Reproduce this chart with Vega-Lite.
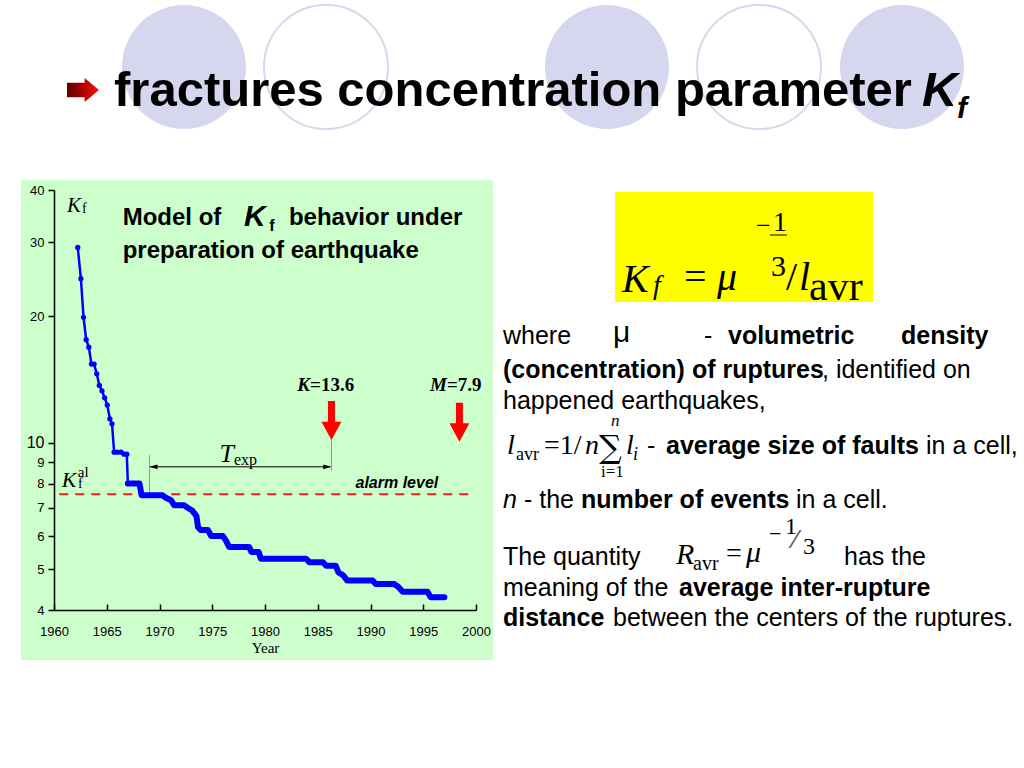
{
"$schema": "https://vega.github.io/schema/vega-lite/v6.json",
"background": "white",
"padding": {"left": 20, "top": 1, "right": 4, "bottom": 4},
"bounds": "flush",
"spacing": 55,
"config": {"view": {"stroke": null}, "font": "Liberation Sans"},
"data": {"values": [{}]},
"datasets": {"kf": [
{"year":1962.25,"kf":29.2},{"year":1962.55,"kf":24.6},{"year":1962.8,"kf":19.9},{"year":1963.05,"kf":17.6},{"year":1963.3,"kf":16.9},{"year":1963.55,"kf":15.4},{"year":1963.8,"kf":15.4},{"year":1964.05,"kf":14.6},{"year":1964.3,"kf":13.7},{"year":1964.55,"kf":13.3},{"year":1964.8,"kf":12.8},{"year":1965.05,"kf":12.3},{"year":1965.3,"kf":11.4},{"year":1965.5,"kf":11.1},{"year":1965.7,"kf":9.5},{"year":1966.0,"kf":9.5},{"year":1966.35,"kf":9.5},{"year":1966.65,"kf":9.4},{"year":1966.9,"kf":9.4},{"year":1967.0,"kf":8.0},{"year":1968.1,"kf":8.0},{"year":1968.3,"kf":7.5},{"year":1970.3,"kf":7.5},{"year":1970.6,"kf":7.4},{"year":1971.1,"kf":7.3},{"year":1971.4,"kf":7.1},{"year":1972.35,"kf":7.1},{"year":1972.7,"kf":7.0},{"year":1973.1,"kf":6.9},{"year":1973.5,"kf":6.7},{"year":1973.65,"kf":6.3},{"year":1973.9,"kf":6.2},{"year":1974.6,"kf":6.2},{"year":1974.9,"kf":6.0},{"year":1976.0,"kf":6.0},{"year":1976.3,"kf":5.85},{"year":1976.6,"kf":5.65},{"year":1978.5,"kf":5.65},{"year":1978.7,"kf":5.5},{"year":1979.4,"kf":5.5},{"year":1979.6,"kf":5.3},{"year":1983.9,"kf":5.3},{"year":1984.2,"kf":5.2},{"year":1985.5,"kf":5.2},{"year":1985.8,"kf":5.1},{"year":1986.7,"kf":5.1},{"year":1986.95,"kf":4.92},{"year":1987.4,"kf":4.84},{"year":1987.8,"kf":4.7},{"year":1990.2,"kf":4.7},{"year":1990.5,"kf":4.61},{"year":1992.25,"kf":4.61},{"year":1992.6,"kf":4.55},{"year":1993.05,"kf":4.42},{"year":1995.4,"kf":4.42},{"year":1995.7,"kf":4.29},{"year":1997.0,"kf":4.29}
]},
"vconcat": [
{
"width": 950, "height": 130,
"layer": [
{"mark": {"type":"point","shape":"circle","filled":true,"fill":"#d6d6ee","strokeWidth":0,"size":15376,"opacity":1},
 "encoding": {"x":{"datum":130,"type":"quantitative","scale":{"domain":[0,950]},"axis":null},"y":{"datum":62,"type":"quantitative","scale":{"domain":[0,130],"reverse":true},"axis":null}}},
{"mark": {"type":"point","shape":"circle","filled":false,"stroke":"#d6d6ee","strokeWidth":2,"size":15376,"opacity":1},
 "encoding": {"x":{"datum":272,"type":"quantitative","scale":{"domain":[0,950]},"axis":null},"y":{"datum":62,"type":"quantitative","scale":{"domain":[0,130],"reverse":true},"axis":null}}},
{"mark": {"type":"point","shape":"circle","filled":true,"fill":"#d6d6ee","strokeWidth":0,"size":15376,"opacity":1},
 "encoding": {"x":{"datum":553,"type":"quantitative","scale":{"domain":[0,950]},"axis":null},"y":{"datum":62,"type":"quantitative","scale":{"domain":[0,130],"reverse":true},"axis":null}}},
{"mark": {"type":"point","shape":"circle","filled":false,"stroke":"#d6d6ee","strokeWidth":2,"size":15376,"opacity":1},
 "encoding": {"x":{"datum":705,"type":"quantitative","scale":{"domain":[0,950]},"axis":null},"y":{"datum":62,"type":"quantitative","scale":{"domain":[0,130],"reverse":true},"axis":null}}},
{"mark": {"type":"point","shape":"circle","filled":true,"fill":"#d6d6ee","strokeWidth":0,"size":15376,"opacity":1},
 "encoding": {"x":{"datum":848,"type":"quantitative","scale":{"domain":[0,950]},"axis":null},"y":{"datum":62,"type":"quantitative","scale":{"domain":[0,130],"reverse":true},"axis":null}}},
{"mark": {"type":"point","shape":"M-1,-0.45L0.1,-0.45L0.1,-0.75L1,0L0.1,0.75L0.1,0.45L-1,0.45Z","filled":true,"fill":{"gradient":"linear","x1":0,"y1":0,"x2":1,"y2":0,"stops":[{"offset":0,"color":"#5a0000"},{"offset":0.5,"color":"#b00000"},{"offset":1,"color":"#ff1010"}]},"strokeWidth":0,"size":1024,"opacity":1},
 "encoding": {"x":{"datum":29,"type":"quantitative","scale":{"domain":[0,950]},"axis":null},"y":{"datum":85,"type":"quantitative","scale":{"domain":[0,130],"reverse":true},"axis":null}}},
{"mark": {"type":"text","text":"fractures concentration parameter","font":"Liberation Sans","fontSize":49,"fontWeight":"bold","align":"left","baseline":"alphabetic","color":"black"},
 "encoding": {"x":{"datum":60,"type":"quantitative","scale":{"domain":[0,950]},"axis":null},"y":{"datum":101,"type":"quantitative","scale":{"domain":[0,130],"reverse":true},"axis":null}}},
{"mark": {"type":"text","text":"K","font":"Liberation Sans","fontSize":49,"fontWeight":"bold","fontStyle":"italic","align":"left","baseline":"alphabetic","color":"black"},
 "encoding": {"x":{"datum":868,"type":"quantitative","scale":{"domain":[0,950]},"axis":null},"y":{"datum":101,"type":"quantitative","scale":{"domain":[0,130],"reverse":true},"axis":null}}},
{"mark": {"type":"text","text":"f","font":"Liberation Sans","fontSize":30,"fontWeight":"bold","fontStyle":"italic","align":"left","baseline":"alphabetic","color":"black"},
 "encoding": {"x":{"datum":903,"type":"quantitative","scale":{"domain":[0,950]},"axis":null},"y":{"datum":113,"type":"quantitative","scale":{"domain":[0,130],"reverse":true},"axis":null}}}
]
},
{
"hconcat": [
{
"width": 422, "height": 420,
"layer": [
{"mark": {"type":"rect","color":"#ccffcc","clip":false},
 "encoding": {
  "x": {"datum":1956.87,"type":"quantitative","scale":{"domain":[1960,2000],"nice":false,"zero":false},
   "axis":{"values":[1960,1965,1970,1975,1980,1985,1990,1995,2000],
    "format":"d","title":"Year","titleFont":"Liberation Serif","titleFontSize":15,"titleFontWeight":"normal","titleColor":"black","titlePadding":2,
    "grid":false,"zindex":1,"domainColor":"black","domainWidth":1.5,"tickColor":"black","tickWidth":1.5,"tickSize":-6,
    "labelPadding":21,"labelColor":"black","labelFont":"Liberation Sans","labelFontSize":13,"labelOverlap":false,"labelFlush":false}},
  "x2":{"datum":2001.6},
  "y": {"datum":42.3,"type":"quantitative","scale":{"type":"log","domain":[4,40],"nice":false},
   "axis":{"values":[4,5,6,7,8,9,10,20,30,40],"format":"d","title":null,"grid":false,"zindex":1,"domainColor":"black","domainWidth":1.5,"tickColor":"black","tickWidth":1.5,"tickSize":6,"labelPadding":4,"labelColor":"black","labelFont":"Liberation Sans","labelOverlap":false,
    "labelFontSize":{"condition":{"test":"datum.value === 10","value":16},"value":13}}},
  "y2":{"datum":3.04}}},
{"mark": {"type":"rule","color":"#e8201a","strokeWidth":2,"strokeDash":[9,7]},
 "encoding": {"x":{"datum":1960.5},"x2":{"datum":1999.8},"y":{"datum":7.55}}},
{"mark": {"type":"rule","color":"#7f9f7f","strokeWidth":1},
 "encoding": {"x":{"datum":1969.05},"y":{"datum":9.35},"y2":{"datum":7.55}}},
{"mark": {"type":"rule","color":"#7f9f7f","strokeWidth":1},
 "encoding": {"x":{"datum":1986.3},"y":{"datum":10.2},"y2":{"datum":8.6}}},
{"mark": {"type":"rule","color":"black","strokeWidth":1},
 "encoding": {"x":{"datum":1969.1},"x2":{"datum":1986.2},"y":{"datum":8.77}}},
{"mark": {"type":"point","shape":"M1,-0.6L-1,0L1,0.6Z","filled":true,"color":"black","size":64,"opacity":1},
 "encoding": {"x":{"datum":1969.43},"y":{"datum":8.77}}},
{"mark": {"type":"point","shape":"M-1,-0.6L1,0L-1,0.6Z","filled":true,"color":"black","size":64,"opacity":1},
 "encoding": {"x":{"datum":1985.9},"y":{"datum":8.77}}},
{"mark": {"type":"point","shape":"M-0.18,-1L0.18,-1L0.18,0.06L0.51,0.06L0,1L-0.51,0.06L-0.18,0.06Z","filled":true,"color":"#ff0000","size":1521,"opacity":1},
 "encoding": {"x":{"datum":1986.3},"y":{"datum":11.3}}},
{"mark": {"type":"point","shape":"M-0.18,-1L0.18,-1L0.18,0.06L0.51,0.06L0,1L-0.51,0.06L-0.18,0.06Z","filled":true,"color":"#ff0000","size":1521,"opacity":1},
 "encoding": {"x":{"datum":1998.43},"y":{"datum":11.2}}},
{"data": {"name":"kf"},
 "mark": {"type":"line","color":"#0000ff","strokeWidth":2.5},
 "encoding": {"x":{"field":"year","type":"quantitative"},"y":{"field":"kf","type":"quantitative"}}},
{"data": {"name":"kf"},
 "transform": [{"filter":"datum.year >= 1967"}],
 "mark": {"type":"line","color":"#0000ff","strokeWidth":6,"strokeJoin":"round","strokeCap":"round"},
 "encoding": {"x":{"field":"year","type":"quantitative"},"y":{"field":"kf","type":"quantitative"}}},
{"data": {"name":"kf"},
 "transform": [{"filter":"datum.year < 1967.05"}],
 "mark": {"type":"point","filled":true,"color":"#0000ff","size":28,"opacity":1},
 "encoding": {"x":{"field":"year","type":"quantitative"},"y":{"field":"kf","type":"quantitative"}}},
{"mark": {"type":"text","text":"K","font":"Liberation Serif","fontSize":21,"fontStyle":"italic","align":"left","baseline":"alphabetic","color":"black"},
 "encoding": {"x":{"datum":1961.23},"y":{"datum":35.4}}},
{"mark": {"type":"text","text":"f","font":"Liberation Serif","fontSize":14,"align":"left","baseline":"alphabetic","color":"black"},
 "encoding": {"x":{"datum":1962.65},"y":{"datum":35.2}}},
{"mark": {"type":"text","text":"K","font":"Liberation Serif","fontSize":22,"fontStyle":"italic","align":"left","baseline":"alphabetic","color":"black"},
 "encoding": {"x":{"datum":1960.73},"y":{"datum":7.86}}},
{"mark": {"type":"text","text":"al","font":"Liberation Serif","fontSize":15,"align":"left","baseline":"alphabetic","color":"black"},
 "encoding": {"x":{"datum":1962.25},"y":{"datum":8.31}}},
{"mark": {"type":"text","text":"f","font":"Liberation Serif","fontSize":14,"align":"left","baseline":"alphabetic","color":"black"},
 "encoding": {"x":{"datum":1962.27},"y":{"datum":7.8}}},
{"mark": {"type":"text","text":"Model of","font":"Liberation Sans","fontSize":24,"fontWeight":"bold","align":"left","baseline":"alphabetic","color":"black"},
 "encoding": {"x":{"datum":1966.51},"y":{"datum":33.0}}},
{"mark": {"type":"text","text":"K","font":"Liberation Sans","fontSize":30,"fontWeight":"bold","fontStyle":"italic","align":"left","baseline":"alphabetic","color":"black"},
 "encoding": {"x":{"datum":1978.0},"y":{"datum":32.8}}},
{"mark": {"type":"text","text":"f","font":"Liberation Sans","fontSize":16,"fontWeight":"bold","align":"left","baseline":"alphabetic","color":"black"},
 "encoding": {"x":{"datum":1980.4},"y":{"datum":31.9}}},
{"mark": {"type":"text","text":"behavior under","font":"Liberation Sans","fontSize":24,"fontWeight":"bold","align":"left","baseline":"alphabetic","color":"black"},
 "encoding": {"x":{"datum":1982.27},"y":{"datum":33.0}}},
{"mark": {"type":"text","text":"preparation of earthquake","font":"Liberation Sans","fontSize":24,"fontWeight":"bold","align":"left","baseline":"alphabetic","color":"black"},
 "encoding": {"x":{"datum":1966.51},"y":{"datum":27.5}}},
{"mark": {"type":"text","text":"K","font":"Liberation Serif","fontSize":19,"fontWeight":"bold","fontStyle":"italic","align":"right","baseline":"alphabetic","color":"black"},
 "encoding": {"x":{"datum":1984.27},"y":{"datum":13.3}}},
{"mark": {"type":"text","text":"=13.6","font":"Liberation Serif","fontSize":19,"fontWeight":"bold","align":"left","baseline":"alphabetic","color":"black"},
 "encoding": {"x":{"datum":1984.27},"y":{"datum":13.3}}},
{"mark": {"type":"text","text":"M","font":"Liberation Serif","fontSize":19,"fontWeight":"bold","fontStyle":"italic","align":"right","baseline":"alphabetic","color":"black"},
 "encoding": {"x":{"datum":1997.25},"y":{"datum":13.3}}},
{"mark": {"type":"text","text":"=7.9","font":"Liberation Serif","fontSize":19,"fontWeight":"bold","align":"left","baseline":"alphabetic","color":"black"},
 "encoding": {"x":{"datum":1997.25},"y":{"datum":13.3}}},
{"mark": {"type":"text","text":"T","font":"Liberation Serif","fontSize":26,"fontStyle":"italic","align":"right","baseline":"alphabetic","color":"black"},
 "encoding": {"x":{"datum":1977.06},"y":{"datum":9.0}}},
{"mark": {"type":"text","text":"exp","font":"Liberation Serif","fontSize":16,"align":"left","baseline":"alphabetic","color":"black"},
 "encoding": {"x":{"datum":1977.06},"y":{"datum":8.85}}},
{"mark": {"type":"text","text":"alarm level","font":"Liberation Sans","fontSize":16,"fontWeight":"bold","fontStyle":"italic","align":"center","baseline":"alphabetic","color":"black"},
 "encoding": {"x":{"datum":1992.5},"y":{"datum":7.81}}}
]
},
{
"width": 520, "height": 450,
"layer": [
{"mark": {"type":"rect","color":"#ffff00"},
 "encoding": {"x":{"datum":114,"type":"quantitative","scale":{"domain":[0,520]},"axis":null},"x2":{"datum":372},"y":{"datum":2,"type":"quantitative","scale":{"domain":[0,450],"reverse":true},"axis":null},"y2":{"datum":112}}},
{"mark": {"type":"text","text":"K","font":"Liberation Serif","fontSize":40,"fontStyle":"italic","align":"left","baseline":"alphabetic","color":"black"},
 "encoding": {"x":{"datum":121,"type":"quantitative","scale":{"domain":[0,520]},"axis":null},"y":{"datum":102,"type":"quantitative","scale":{"domain":[0,450],"reverse":true},"axis":null}}},
{"mark": {"type":"text","text":"f","font":"Liberation Serif","fontSize":28,"fontStyle":"italic","align":"left","baseline":"alphabetic","color":"black"},
 "encoding": {"x":{"datum":152,"type":"quantitative","scale":{"domain":[0,520]},"axis":null},"y":{"datum":104,"type":"quantitative","scale":{"domain":[0,450],"reverse":true},"axis":null}}},
{"mark": {"type":"text","text":"=","font":"Liberation Serif","fontSize":40,"align":"left","baseline":"alphabetic","color":"black"},
 "encoding": {"x":{"datum":183,"type":"quantitative","scale":{"domain":[0,520]},"axis":null},"y":{"datum":100,"type":"quantitative","scale":{"domain":[0,450],"reverse":true},"axis":null}}},
{"mark": {"type":"text","text":"μ","font":"Liberation Serif","fontSize":40,"fontStyle":"italic","align":"left","baseline":"alphabetic","color":"black"},
 "encoding": {"x":{"datum":216,"type":"quantitative","scale":{"domain":[0,520]},"axis":null},"y":{"datum":100,"type":"quantitative","scale":{"domain":[0,450],"reverse":true},"axis":null}}},
{"mark": {"type":"text","text":"−","font":"Liberation Serif","fontSize":26,"align":"left","baseline":"alphabetic","color":"black"},
 "encoding": {"x":{"datum":255,"type":"quantitative","scale":{"domain":[0,520]},"axis":null},"y":{"datum":44,"type":"quantitative","scale":{"domain":[0,450],"reverse":true},"axis":null}}},
{"mark": {"type":"text","text":"1","font":"Liberation Serif","fontSize":28,"align":"left","baseline":"alphabetic","color":"black"},
 "encoding": {"x":{"datum":272,"type":"quantitative","scale":{"domain":[0,520]},"axis":null},"y":{"datum":41,"type":"quantitative","scale":{"domain":[0,450],"reverse":true},"axis":null}}},
{"mark": {"type":"rule","color":"black","strokeWidth":1},
 "encoding": {"x":{"datum":269,"type":"quantitative","scale":{"domain":[0,520]},"axis":null},"x2":{"datum":286},"y":{"datum":45,"type":"quantitative","scale":{"domain":[0,450],"reverse":true},"axis":null}}},
{"mark": {"type":"text","text":"3","font":"Liberation Serif","fontSize":30,"align":"left","baseline":"alphabetic","color":"black"},
 "encoding": {"x":{"datum":270,"type":"quantitative","scale":{"domain":[0,520]},"axis":null},"y":{"datum":86,"type":"quantitative","scale":{"domain":[0,450],"reverse":true},"axis":null}}},
{"mark": {"type":"text","text":"/","font":"Liberation Serif","fontSize":40,"align":"left","baseline":"alphabetic","color":"black"},
 "encoding": {"x":{"datum":285,"type":"quantitative","scale":{"domain":[0,520]},"axis":null},"y":{"datum":100,"type":"quantitative","scale":{"domain":[0,450],"reverse":true},"axis":null}}},
{"mark": {"type":"text","text":"l","font":"Liberation Serif","fontSize":40,"fontStyle":"italic","align":"left","baseline":"alphabetic","color":"black"},
 "encoding": {"x":{"datum":298,"type":"quantitative","scale":{"domain":[0,520]},"axis":null},"y":{"datum":100,"type":"quantitative","scale":{"domain":[0,450],"reverse":true},"axis":null}}},
{"mark": {"type":"text","text":"avr","font":"Liberation Serif","fontSize":42,"align":"left","baseline":"alphabetic","color":"black"},
 "encoding": {"x":{"datum":308,"type":"quantitative","scale":{"domain":[0,520]},"axis":null},"y":{"datum":110,"type":"quantitative","scale":{"domain":[0,450],"reverse":true},"axis":null}}},

{"mark": {"type":"text","text":"where","font":"Liberation Sans","fontSize":25,"align":"left","baseline":"alphabetic","color":"black"},
 "encoding": {"x":{"datum":2,"type":"quantitative","scale":{"domain":[0,520]},"axis":null},"y":{"datum":154,"type":"quantitative","scale":{"domain":[0,450],"reverse":true},"axis":null}}},
{"mark": {"type":"text","text":"μ","font":"Liberation Sans","fontSize":30,"align":"left","baseline":"alphabetic","color":"black"},
 "encoding": {"x":{"datum":112,"type":"quantitative","scale":{"domain":[0,520]},"axis":null},"y":{"datum":152,"type":"quantitative","scale":{"domain":[0,450],"reverse":true},"axis":null}}},
{"mark": {"type":"text","text":"-","font":"Liberation Sans","fontSize":25,"align":"left","baseline":"alphabetic","color":"black"},
 "encoding": {"x":{"datum":203,"type":"quantitative","scale":{"domain":[0,520]},"axis":null},"y":{"datum":154,"type":"quantitative","scale":{"domain":[0,450],"reverse":true},"axis":null}}},
{"mark": {"type":"text","text":"volumetric","font":"Liberation Sans","fontSize":25,"fontWeight":"bold","align":"left","baseline":"alphabetic","color":"black"},
 "encoding": {"x":{"datum":227,"type":"quantitative","scale":{"domain":[0,520]},"axis":null},"y":{"datum":154,"type":"quantitative","scale":{"domain":[0,450],"reverse":true},"axis":null}}},
{"mark": {"type":"text","text":"density","font":"Liberation Sans","fontSize":25,"fontWeight":"bold","align":"left","baseline":"alphabetic","color":"black"},
 "encoding": {"x":{"datum":400,"type":"quantitative","scale":{"domain":[0,520]},"axis":null},"y":{"datum":154,"type":"quantitative","scale":{"domain":[0,450],"reverse":true},"axis":null}}},
{"mark": {"type":"text","text":"(concentration) of ruptures","font":"Liberation Sans","fontSize":25,"fontWeight":"bold","align":"left","baseline":"alphabetic","color":"black"},
 "encoding": {"x":{"datum":2,"type":"quantitative","scale":{"domain":[0,520]},"axis":null},"y":{"datum":188,"type":"quantitative","scale":{"domain":[0,450],"reverse":true},"axis":null}}},
{"mark": {"type":"text","text":", identified on","font":"Liberation Sans","fontSize":25,"align":"left","baseline":"alphabetic","color":"black"},
 "encoding": {"x":{"datum":321,"type":"quantitative","scale":{"domain":[0,520]},"axis":null},"y":{"datum":188,"type":"quantitative","scale":{"domain":[0,450],"reverse":true},"axis":null}}},
{"mark": {"type":"text","text":"happened earthquakes,","font":"Liberation Sans","fontSize":25,"align":"left","baseline":"alphabetic","color":"black"},
 "encoding": {"x":{"datum":2,"type":"quantitative","scale":{"domain":[0,520]},"axis":null},"y":{"datum":219,"type":"quantitative","scale":{"domain":[0,450],"reverse":true},"axis":null}}},

{"mark": {"type":"text","text":"l","font":"Liberation Serif","fontSize":28,"fontStyle":"italic","align":"left","baseline":"alphabetic","color":"black"},
 "encoding": {"x":{"datum":6,"type":"quantitative","scale":{"domain":[0,520]},"axis":null},"y":{"datum":264,"type":"quantitative","scale":{"domain":[0,450],"reverse":true},"axis":null}}},
{"mark": {"type":"text","text":"avr","font":"Liberation Serif","fontSize":18,"align":"left","baseline":"alphabetic","color":"black"},
 "encoding": {"x":{"datum":15,"type":"quantitative","scale":{"domain":[0,520]},"axis":null},"y":{"datum":270,"type":"quantitative","scale":{"domain":[0,450],"reverse":true},"axis":null}}},
{"mark": {"type":"text","text":"=1/","font":"Liberation Serif","fontSize":28,"align":"left","baseline":"alphabetic","color":"black"},
 "encoding": {"x":{"datum":43,"type":"quantitative","scale":{"domain":[0,520]},"axis":null},"y":{"datum":264,"type":"quantitative","scale":{"domain":[0,450],"reverse":true},"axis":null}}},
{"mark": {"type":"text","text":"n","font":"Liberation Serif","fontSize":28,"fontStyle":"italic","align":"left","baseline":"alphabetic","color":"black"},
 "encoding": {"x":{"datum":84,"type":"quantitative","scale":{"domain":[0,520]},"axis":null},"y":{"datum":264,"type":"quantitative","scale":{"domain":[0,450],"reverse":true},"axis":null}}},
{"mark": {"type":"text","text":"∑","font":"DejaVu Serif","fontSize":32,"align":"left","baseline":"alphabetic","color":"black"},
 "encoding": {"x":{"datum":98,"type":"quantitative","scale":{"domain":[0,520]},"axis":null},"y":{"datum":268,"type":"quantitative","scale":{"domain":[0,450],"reverse":true},"axis":null}}},
{"mark": {"type":"text","text":"n","font":"Liberation Serif","fontSize":17,"fontStyle":"italic","align":"left","baseline":"alphabetic","color":"black"},
 "encoding": {"x":{"datum":110,"type":"quantitative","scale":{"domain":[0,520]},"axis":null},"y":{"datum":236,"type":"quantitative","scale":{"domain":[0,450],"reverse":true},"axis":null}}},
{"mark": {"type":"text","text":"i=1","font":"Liberation Serif","fontSize":17,"align":"left","baseline":"alphabetic","color":"black"},
 "encoding": {"x":{"datum":100,"type":"quantitative","scale":{"domain":[0,520]},"axis":null},"y":{"datum":287,"type":"quantitative","scale":{"domain":[0,450],"reverse":true},"axis":null}}},
{"mark": {"type":"text","text":"l","font":"Liberation Serif","fontSize":28,"fontStyle":"italic","align":"left","baseline":"alphabetic","color":"black"},
 "encoding": {"x":{"datum":125,"type":"quantitative","scale":{"domain":[0,520]},"axis":null},"y":{"datum":264,"type":"quantitative","scale":{"domain":[0,450],"reverse":true},"axis":null}}},
{"mark": {"type":"text","text":"i","font":"Liberation Serif","fontSize":18,"fontStyle":"italic","align":"left","baseline":"alphabetic","color":"black"},
 "encoding": {"x":{"datum":132,"type":"quantitative","scale":{"domain":[0,520]},"axis":null},"y":{"datum":270,"type":"quantitative","scale":{"domain":[0,450],"reverse":true},"axis":null}}},
{"mark": {"type":"text","text":"-","font":"Liberation Sans","fontSize":25,"align":"left","baseline":"alphabetic","color":"black"},
 "encoding": {"x":{"datum":146,"type":"quantitative","scale":{"domain":[0,520]},"axis":null},"y":{"datum":264,"type":"quantitative","scale":{"domain":[0,450],"reverse":true},"axis":null}}},
{"mark": {"type":"text","text":"average size of faults","font":"Liberation Sans","fontSize":25,"fontWeight":"bold","align":"left","baseline":"alphabetic","color":"black"},
 "encoding": {"x":{"datum":165,"type":"quantitative","scale":{"domain":[0,520]},"axis":null},"y":{"datum":264,"type":"quantitative","scale":{"domain":[0,450],"reverse":true},"axis":null}}},
{"mark": {"type":"text","text":"in a cell,","font":"Liberation Sans","fontSize":25,"align":"left","baseline":"alphabetic","color":"black"},
 "encoding": {"x":{"datum":425,"type":"quantitative","scale":{"domain":[0,520]},"axis":null},"y":{"datum":264,"type":"quantitative","scale":{"domain":[0,450],"reverse":true},"axis":null}}},

{"mark": {"type":"text","text":"n","font":"Liberation Sans","fontSize":25,"fontStyle":"italic","align":"left","baseline":"alphabetic","color":"black"},
 "encoding": {"x":{"datum":2,"type":"quantitative","scale":{"domain":[0,520]},"axis":null},"y":{"datum":318,"type":"quantitative","scale":{"domain":[0,450],"reverse":true},"axis":null}}},
{"mark": {"type":"text","text":"- the","font":"Liberation Sans","fontSize":25,"align":"left","baseline":"alphabetic","color":"black"},
 "encoding": {"x":{"datum":23,"type":"quantitative","scale":{"domain":[0,520]},"axis":null},"y":{"datum":318,"type":"quantitative","scale":{"domain":[0,450],"reverse":true},"axis":null}}},
{"mark": {"type":"text","text":"number of events","font":"Liberation Sans","fontSize":25,"fontWeight":"bold","align":"left","baseline":"alphabetic","color":"black"},
 "encoding": {"x":{"datum":80,"type":"quantitative","scale":{"domain":[0,520]},"axis":null},"y":{"datum":318,"type":"quantitative","scale":{"domain":[0,450],"reverse":true},"axis":null}}},
{"mark": {"type":"text","text":"in a cell.","font":"Liberation Sans","fontSize":25,"align":"left","baseline":"alphabetic","color":"black"},
 "encoding": {"x":{"datum":295,"type":"quantitative","scale":{"domain":[0,520]},"axis":null},"y":{"datum":318,"type":"quantitative","scale":{"domain":[0,450],"reverse":true},"axis":null}}},

{"mark": {"type":"text","text":"The quantity","font":"Liberation Sans","fontSize":25,"align":"left","baseline":"alphabetic","color":"black"},
 "encoding": {"x":{"datum":2,"type":"quantitative","scale":{"domain":[0,520]},"axis":null},"y":{"datum":375,"type":"quantitative","scale":{"domain":[0,450],"reverse":true},"axis":null}}},
{"mark": {"type":"text","text":"R","font":"Liberation Serif","fontSize":30,"fontStyle":"italic","align":"left","baseline":"alphabetic","color":"black"},
 "encoding": {"x":{"datum":175,"type":"quantitative","scale":{"domain":[0,520]},"axis":null},"y":{"datum":374,"type":"quantitative","scale":{"domain":[0,450],"reverse":true},"axis":null}}},
{"mark": {"type":"text","text":"avr","font":"Liberation Serif","fontSize":20,"align":"left","baseline":"alphabetic","color":"black"},
 "encoding": {"x":{"datum":192,"type":"quantitative","scale":{"domain":[0,520]},"axis":null},"y":{"datum":380,"type":"quantitative","scale":{"domain":[0,450],"reverse":true},"axis":null}}},
{"mark": {"type":"text","text":"=","font":"Liberation Serif","fontSize":28,"align":"left","baseline":"alphabetic","color":"black"},
 "encoding": {"x":{"datum":225,"type":"quantitative","scale":{"domain":[0,520]},"axis":null},"y":{"datum":372,"type":"quantitative","scale":{"domain":[0,450],"reverse":true},"axis":null}}},
{"mark": {"type":"text","text":"μ","font":"Liberation Serif","fontSize":30,"fontStyle":"italic","align":"left","baseline":"alphabetic","color":"black"},
 "encoding": {"x":{"datum":245,"type":"quantitative","scale":{"domain":[0,520]},"axis":null},"y":{"datum":372,"type":"quantitative","scale":{"domain":[0,450],"reverse":true},"axis":null}}},
{"mark": {"type":"text","text":"−","font":"Liberation Serif","fontSize":22,"align":"left","baseline":"alphabetic","color":"black"},
 "encoding": {"x":{"datum":268,"type":"quantitative","scale":{"domain":[0,520]},"axis":null},"y":{"datum":351,"type":"quantitative","scale":{"domain":[0,450],"reverse":true},"axis":null}}},
{"mark": {"type":"text","text":"1","font":"Liberation Serif","fontSize":24,"align":"left","baseline":"alphabetic","color":"black"},
 "encoding": {"x":{"datum":284,"type":"quantitative","scale":{"domain":[0,520]},"axis":null},"y":{"datum":344,"type":"quantitative","scale":{"domain":[0,450],"reverse":true},"axis":null}}},
{"mark": {"type":"text","text":"⁄","font":"DejaVu Serif","fontSize":24,"align":"left","baseline":"alphabetic","color":"#555555"},
 "encoding": {"x":{"datum":292,"type":"quantitative","scale":{"domain":[0,520]},"axis":null},"y":{"datum":358,"type":"quantitative","scale":{"domain":[0,450],"reverse":true},"axis":null}}},
{"mark": {"type":"text","text":"3","font":"Liberation Serif","fontSize":24,"align":"left","baseline":"alphabetic","color":"black"},
 "encoding": {"x":{"datum":302,"type":"quantitative","scale":{"domain":[0,520]},"axis":null},"y":{"datum":364,"type":"quantitative","scale":{"domain":[0,450],"reverse":true},"axis":null}}},
{"mark": {"type":"text","text":"has the","font":"Liberation Sans","fontSize":25,"align":"left","baseline":"alphabetic","color":"black"},
 "encoding": {"x":{"datum":343,"type":"quantitative","scale":{"domain":[0,520]},"axis":null},"y":{"datum":375,"type":"quantitative","scale":{"domain":[0,450],"reverse":true},"axis":null}}},

{"mark": {"type":"text","text":"meaning of the","font":"Liberation Sans","fontSize":25,"align":"left","baseline":"alphabetic","color":"black"},
 "encoding": {"x":{"datum":2,"type":"quantitative","scale":{"domain":[0,520]},"axis":null},"y":{"datum":406,"type":"quantitative","scale":{"domain":[0,450],"reverse":true},"axis":null}}},
{"mark": {"type":"text","text":"average inter-rupture","font":"Liberation Sans","fontSize":25,"fontWeight":"bold","align":"left","baseline":"alphabetic","color":"black"},
 "encoding": {"x":{"datum":178,"type":"quantitative","scale":{"domain":[0,520]},"axis":null},"y":{"datum":406,"type":"quantitative","scale":{"domain":[0,450],"reverse":true},"axis":null}}},
{"mark": {"type":"text","text":"distance","font":"Liberation Sans","fontSize":25,"fontWeight":"bold","align":"left","baseline":"alphabetic","color":"black"},
 "encoding": {"x":{"datum":2,"type":"quantitative","scale":{"domain":[0,520]},"axis":null},"y":{"datum":436,"type":"quantitative","scale":{"domain":[0,450],"reverse":true},"axis":null}}},
{"mark": {"type":"text","text":"between the centers of the ruptures.","font":"Liberation Sans","fontSize":25,"align":"left","baseline":"alphabetic","color":"black"},
 "encoding": {"x":{"datum":112,"type":"quantitative","scale":{"domain":[0,520]},"axis":null},"y":{"datum":436,"type":"quantitative","scale":{"domain":[0,450],"reverse":true},"axis":null}}}
]
}
],
"spacing": 25,
"bounds": "flush"
}
]
}
